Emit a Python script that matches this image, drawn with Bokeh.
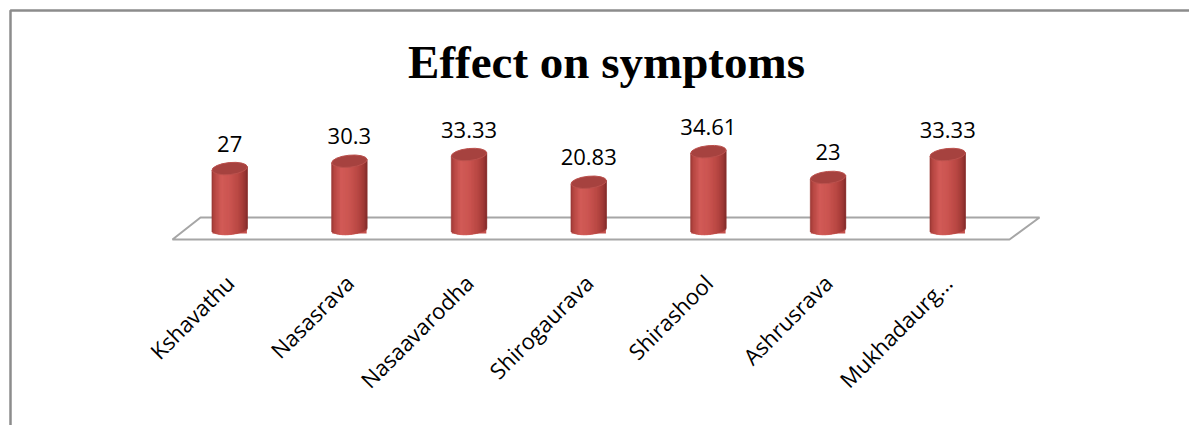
import numpy as np
from bokeh.plotting import figure
from bokeh.models import Range1d, ColumnDataSource
from bokeh.core.properties import value
from bokeh.embed import file_html
from bokeh.resources import INLINE

# ---- data ----
categories = ["Kshavathu", "Nasasrava", "Nasaavarodha", "Shirogaurava",
              "Shirashool", "Ashrusrava", "Mukhadaurg..."]
values = [27, 30.3, 33.33, 20.83, 34.61, 23, 33.33]
value_labels = ["27", "30.3", "33.33", "20.83", "34.61", "23", "33.33"]
title_text = "Effect on symptoms"

# ---- layout (pixels) ----
W, H = 1189, 425
X0, DX = 229.2, 119.67   # pixel x of first category, pixels per category
Y0, DY = 228.0, 2.22     # pixel y of value 0, pixels per unit


def px_x(px):
    return (px - X0) / DX


def px_y(py):
    return (Y0 - py) / DY


p = figure(width=W, height=H, output_backend="svg", toolbar_location=None,
           x_range=Range1d(px_x(0), px_x(W)), y_range=Range1d(px_y(H), px_y(0)),
           x_axis_location=None, y_axis_location=None,
           min_border=0, outline_line_color=None,
           background_fill_color="white", border_fill_color="white")
p.grid.visible = False

# chart frame (left + top)
p.line(x=[px_x(10), px_x(10), px_x(W + 5)], y=[px_y(H + 5), px_y(10), px_y(10)],
       line_color="#8c8c8c", line_width=2.5)

# floor
p.patch(x=[px_x(172), px_x(200), px_x(1039), px_x(1009)],
        y=[px_y(239), px_y(217), px_y(217), px_y(239)],
        fill_color="white", line_color="#a6a6a6", line_width=2)

# ---- cylinders ----
idx = np.arange(len(categories))
bar_px = 35.5
ell_h = 12.0
tilt = 0.10
N = 24
stops_t = [-1.0, -0.85, -0.45, 0.0, 0.5, 0.85, 1.0]
stops_c = [(150, 55, 52), (182, 70, 66), (210, 92, 88), (204, 86, 82),
           (186, 72, 68), (158, 57, 54), (130, 44, 42)]


def shade(t):
    r = np.interp(t, stops_t, [c[0] for c in stops_c])
    g = np.interp(t, stops_t, [c[1] for c in stops_c])
    b = np.interp(t, stops_t, [c[2] for c in stops_c])
    return "#%02x%02x%02x" % (int(r), int(g), int(b))


half_w = bar_px / 2 / DX
L, R, T, B, C = [], [], [], [], []
for i, v in zip(idx, values):
    for k in range(N):
        tl = -1 + 2 * k / N
        tr = -1 + 2 * (k + 1) / N
        tc = (tl + tr) / 2
        lift = tc * (bar_px / 2) * np.tan(tilt) / DY
        L.append(i + tl * half_w)
        R.append(i + min(1.0, tr + 0.06) * half_w)
        T.append(v + lift)
        B.append(-(ell_h / 2) * np.sqrt(max(0.0, 1 - tc ** 2)) / DY + lift)
        C.append(shade(tc))

# solid under-body to hide anti-aliasing seams
p.quad(left=idx - half_w * 0.97, right=idx + half_w * 0.97, top=values,
       bottom=[-(ell_h / 2 - 1) / DY] * len(idx), fill_color="#c4504c", line_color=None)

src = ColumnDataSource(dict(left=L, right=R, top=T, bottom=B, color=C))
p.quad(left="left", right="right", top="top", bottom="bottom", source=src,
       fill_color="color", line_color="color", line_width=0.6)

p.ellipse(x=idx, y=values, width=bar_px, height=ell_h, width_units="screen",
          height_units="screen", angle=tilt, fill_color="#a6423f",
          line_color="#bb514d", line_width=1)

# value labels
p.text(x=idx, y=values, text=value_labels, y_offset=-25,
       text_align="center", text_baseline="middle",
       text_font=value("Open Sans"), text_font_size="22px", text_color="black")

# category labels
p.text(x=idx, y=[px_y(278)] * len(categories), text=categories,
       angle=np.pi / 4, text_align="right", text_baseline="middle",
       text_font=value("Open Sans"), text_font_size="22px", text_color="black")

# title
p.text(x=[px_x(606)], y=[px_y(61)], text=[title_text],
       text_align="center", text_baseline="alphabetic",
       text_font=value("Liberation Serif"), text_font_style="bold",
       text_font_size="47px", text_color="black")

open("out.html", "w").write(file_html(p, INLINE))
